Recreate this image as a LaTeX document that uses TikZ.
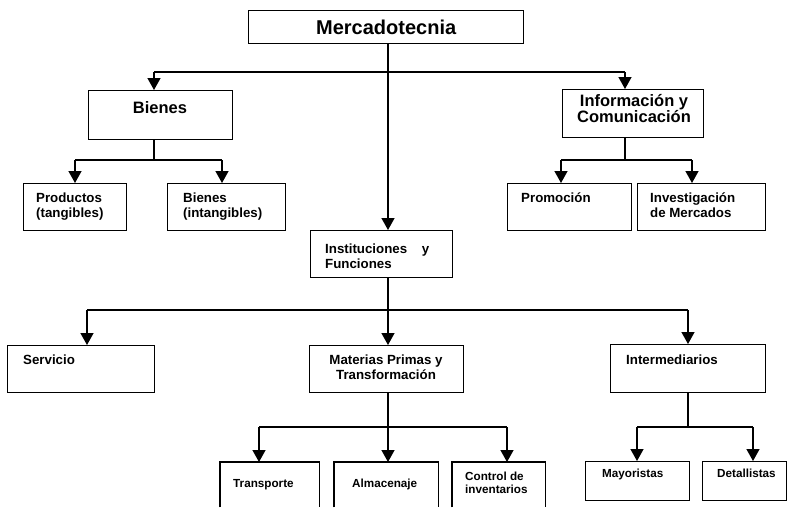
\documentclass[tikz,border=0pt]{standalone}
\usepackage{fontspec}
\setmainfont{Liberation Sans}
\usetikzlibrary{arrows.meta}
\tikzset{
  bx/.style={draw, line width=1.4pt, inner sep=0pt, anchor=north west},
  arr/.style={line width=1.4pt, -{Triangle[width=13pt,length=12pt]}},
  ln/.style={line width=1.4pt},
  ftop/.style={font=\bfseries\fontsize{20}{22}\selectfont},
  fone/.style={font=\bfseries\fontsize{16.5}{15}\selectfont, inner sep=0pt},
  ftwo/.style={font=\bfseries\fontsize{13.3}{15}\selectfont, inner sep=0pt},
  fthree/.style={font=\bfseries\fontsize{11.7}{13}\selectfont, inner sep=0pt},
}
\begin{document}
\begin{tikzpicture}[x=1pt,y=-1pt]
\useasboundingbox[fill=white] (0,0) rectangle (787,507);
% boxes
\node[bx, minimum width=275pt, minimum height=33pt, ftop] (merc) at (248,10) {Mercadotecnia};
\node[bx, minimum width=144pt, minimum height=49pt] (bienes) at (88,90) {};
\node[bx, minimum width=103pt, minimum height=47pt] (prod) at (23,183) {};
\node[bx, minimum width=118pt, minimum height=47pt] (bint) at (167,183) {};
\node[bx, minimum width=141pt, minimum height=48pt] (info) at (562,89) {};
\node[bx, minimum width=124pt, minimum height=47pt] (prom) at (507,183) {};
\node[bx, minimum width=128pt, minimum height=47pt] (inv) at (637,183) {};
\node[bx, minimum width=142pt, minimum height=47pt] (inst) at (310,230) {};
\node[bx, minimum width=147pt, minimum height=47pt] (serv) at (7,345) {};
\node[bx, minimum width=154pt, minimum height=47pt] (mat) at (309,345) {};
\node[bx, minimum width=155pt, minimum height=48pt] (inter) at (610,344) {};
\node[bx, minimum width=104pt, minimum height=39pt] (may) at (585,461) {};
\node[bx, minimum width=84pt, minimum height=39pt] (det) at (702,461) {};
% open-bottom boxes
\node[inner sep=0pt, minimum width=99pt, minimum height=45pt, anchor=north west] (trans) at (220,462) {};
\node[inner sep=0pt, minimum width=104pt, minimum height=45pt, anchor=north west] (alm) at (334,462) {};
\node[inner sep=0pt, minimum width=93pt, minimum height=45pt, anchor=north west] (ctrl) at (452,462) {};
\draw[ln] (trans.south west) |- (trans.north east) -- (trans.south east);
\draw[ln] (alm.south west) |- (alm.north east) -- (alm.south east);
\draw[ln] (ctrl.south west) |- (ctrl.north east) -- (ctrl.south east);
% texts
\node[fone, anchor=north] (bienes-t) at (160,101) {Bienes};
\node[fone, anchor=north, align=center] (info-t) at (634,94) {Información y\\Comunicación};
\node[ftwo, anchor=north west, align=left] (prod-t) at (36,192.3) {Productos\\(tangibles)};
\node[ftwo, anchor=north west, align=left] (bint-t) at (183,192.3) {Bienes\\(intangibles)};
\node[ftwo, anchor=north west] (prom-t) at (521,192.3) {Promoción};
\node[ftwo, anchor=north west, align=left] (inv-t) at (650,192.8) {Investigación\\de Mercados};
\node[ftwo, anchor=north west, align=left] (inst-t) at (325,243.3) {Instituciones\hspace{1.1em}y\\Funciones};
\node[ftwo, anchor=north west] (serv-t) at (23,354.3) {Servicio};
\node[ftwo, anchor=north, align=center] (mat-t) at (386,354.3) {Materias Primas y\\Transformación};
\node[ftwo, anchor=north west] (inter-t) at (626,354.3) {Intermediarios};
\node[fthree, anchor=north west] (trans-t) at (233,478.8) {Transporte};
\node[fthree, anchor=north west] (alm-t) at (352,478.8) {Almacenaje};
\node[fthree, anchor=north west, align=left] (ctrl-t) at (465,471.8) {Control de\\inventarios};
\node[fthree, anchor=north west] (may-t) at (602,468.8) {Mayoristas};
\node[fthree, anchor=north west] (det-t) at (717,468.8) {Detallistas};
% junction coordinates
\coordinate (j1) at (154,72);
\coordinate (j2) at (625,72);
\coordinate (b1) at (154,160);
\coordinate (b1l) at (75,160);
\coordinate (b1r) at (222,160);
\coordinate (b2) at (625,160);
\coordinate (b2l) at (561,160);
\coordinate (b2r) at (692,160);
\coordinate (b3) at (388,310);
\coordinate (b3l) at (87,310);
\coordinate (b3r) at (688,310);
\coordinate (b4) at (388,427);
\coordinate (b4l) at (259,427);
\coordinate (b4r) at (507,427);
\coordinate (b5) at (688,427);
\coordinate (b5l) at (637,427);
\coordinate (b5r) at (753,427);
% connectors
\draw[arr] (merc.south -| b3) -- (inst.north -| b3);
\draw[ln] (j1) -- (j2);
\draw[arr] (j1) -- (j1 |- bienes.north);
\draw[arr] (j2) -- (j2 |- info.north);
\draw[ln] (bienes.south -| b1) -- (b1);
\draw[ln] (b1l) -- (b1r);
\draw[arr] (b1l) -- (b1l |- prod.north);
\draw[arr] (b1r) -- (b1r |- bint.north);
\draw[ln] (info.south -| b2) -- (b2);
\draw[ln] (b2l) -- (b2r);
\draw[arr] (b2l) -- (b2l |- prom.north);
\draw[arr] (b2r) -- (b2r |- inv.north);
\draw[ln] (inst.south -| b3) -- (b3);
\draw[ln] (b3l) -- (b3r);
\draw[arr] (b3l) -- (b3l |- serv.north);
\draw[arr] (b3) -- (b3 |- mat.north);
\draw[arr] (b3r) -- (b3r |- inter.north);
\draw[ln] (mat.south -| b4) -- (b4);
\draw[ln] (b4l) -- (b4r);
\draw[arr] (b4l) -- (b4l |- trans.north);
\draw[arr] (b4) -- (b4 |- alm.north);
\draw[arr] (b4r) -- (b4r |- ctrl.north);
\draw[ln] (inter.south -| b5) -- (b5);
\draw[ln] (b5l) -- (b5r);
\draw[arr] (b5l) -- (b5l |- may.north);
\draw[arr] (b5r) -- (b5r |- det.north);
\end{tikzpicture}
\end{document}
